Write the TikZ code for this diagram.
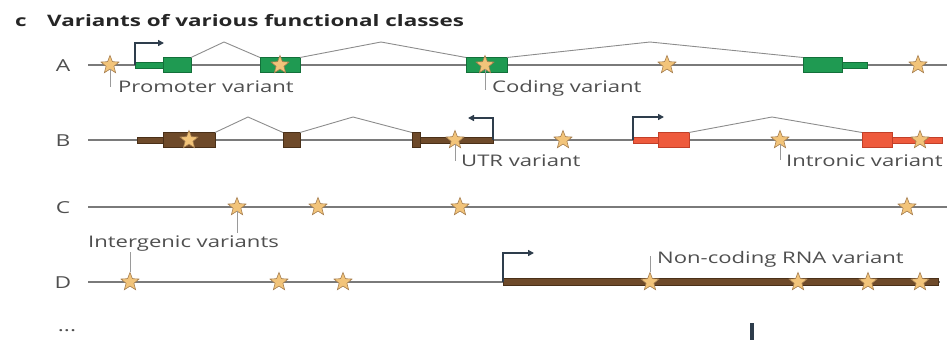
\documentclass[tikz,border=0pt]{standalone}
\usepackage{fontspec}
\setmainfont{Open Sans}
\newfontfamily\labfont{Open Sans}[FakeStretch=1.38]
\newfontfamily\titfont{Open Sans}[FakeStretch=1.42]
\usetikzlibrary{shapes.geometric,arrows.meta}
\definecolor{bbone}{HTML}{7A7A7A}
\definecolor{intr}{HTML}{8C8C8C}
\definecolor{gfill}{HTML}{1F9A52}
\definecolor{gdraw}{HTML}{13703A}
\definecolor{bfill}{HTML}{6E4A2A}
\definecolor{bdraw}{HTML}{4A3018}
\definecolor{rfill}{HTML}{EE5A3C}
\definecolor{rdraw}{HTML}{C23F28}
\definecolor{sfill}{HTML}{F2C47A}
\definecolor{sdraw}{HTML}{A57D4E}
\definecolor{promc}{HTML}{2E3D4C}
\definecolor{txt}{HTML}{4F4F4F}
\definecolor{lead}{HTML}{9A9A9A}
\begin{document}
\begin{tikzpicture}[x=1pt,y=-1pt,
  backbone/.style={draw=bbone,line width=1.5pt},
  intron/.style={draw=intr,line width=0.9pt},
  box/.style={rectangle,anchor=west,inner sep=0,outer sep=0,line width=0.8pt,minimum height=15pt},
  utr/.style={rectangle,anchor=west,inner sep=0,outer sep=0,line width=0.8pt,minimum height=6pt},
  gexon/.style={box,fill=gfill,draw=gdraw},
  gutr/.style={utr,fill=gfill,draw=gdraw},
  bexon/.style={box,fill=bfill,draw=bdraw},
  butr/.style={utr,fill=bfill,draw=bdraw},
  rexon/.style={box,fill=rfill,draw=rdraw},
  rutr/.style={utr,fill=rfill,draw=rdraw},
  vstar/.style={star,star points=5,star point ratio=2.3,minimum size=19pt,inner sep=0,fill=sfill,draw=sdraw,line width=0.6pt},
  prom/.style={draw=promc,line width=1.8pt,-{Triangle[length=6pt,width=6pt]}},
  leader/.style={draw=lead,line width=0.9pt},
  lab/.style={anchor=base west,inner sep=0,text=txt,font=\labfont\fontsize{16}{18}\selectfont},
  rowlab/.style={anchor=center,inner sep=0,text=txt,font=\labfont\fontsize{16.5}{18}\selectfont},
  ttl/.style={anchor=base west,inner sep=0,text=black!85,font=\titfont\bfseries\fontsize{15.8}{17}\selectfont}
]
\useasboundingbox (0,0) rectangle (951,340);

% title
\node[ttl] (tc) at (15,26) {c};
\node[ttl] (title) at (47,26) {Variants of various functional classes};

% ================= Row A =================
\node[rowlab] (rA) at (63,66) {A};
\coordinate (aL) at (88,65); \coordinate (aR) at (947,65);
\draw[backbone] (aL) -- (aR);
\node[gutr,minimum width=28pt] (au1) at (135,65) {};
\node[gexon,minimum width=28pt] (ae1) at (163,65) {};
\node[gexon,minimum width=40pt] (ae2) at (260,65) {};
\node[gexon,minimum width=41pt] (ae3) at (466,65) {};
\node[gexon,minimum width=39pt] (ae4) at (803,65) {};
\node[gutr,minimum width=25pt] (au2) at (842,65) {};
\coordinate (ap1) at (224,42); \coordinate (ap2) at (381,42); \coordinate (ap3) at (650,42);
\draw[intron] (ae1.north east) -- (ap1) -- (ae2.north west);
\draw[intron] (ae2.north east) -- (ap2) -- (ae3.north west);
\draw[intron] (ae3.north east) -- (ap3) -- (ae4.north west);
\coordinate (apr) at (135,65); \coordinate (apr2) at (135,43); \coordinate (apr3) at (164,43);
\draw[prom] (apr) -- (apr2) -- (apr3);
\node[vstar] (as1) at (110,65) {};
\node[vstar] (as2) at (280,65) {};
\node[vstar] (as3) at (485,65) {};
\node[vstar] (as4) at (667,65) {};
\node[vstar] (as5) at (918,65) {};
\node[lab] (lprom) at (118,92) {Promoter variant};
\node[lab] (lcod) at (492,92) {Coding variant};
\coordinate (lpe) at (110,87); \coordinate (lce) at (485,90);
\draw[leader] (as1.south) -- (lpe);
\draw[leader] (as3.south) -- (lce);

% ================= Row B =================
\node[rowlab] (rB) at (63,141) {B};
\coordinate (bL) at (88,140); \coordinate (bR) at (943,140);
\draw[backbone] (bL) -- (bR);
\node[butr,minimum width=26pt] (bu1) at (137,140) {};
\node[bexon,minimum width=52pt] (be1) at (163,140) {};
\node[bexon,minimum width=17pt] (be2) at (283,140) {};
\node[bexon,minimum width=8pt] (be3) at (412,140) {};
\node[butr,minimum width=73pt] (bu2) at (420,140) {};
\coordinate (bp1) at (248,117); \coordinate (bp2) at (353,117);
\draw[intron] (be1.north east) -- (bp1) -- (be2.north west);
\draw[intron] (be2.north east) -- (bp2) -- (be3.north west);
\coordinate (bpr) at (493,140); \coordinate (bpr2) at (493,118); \coordinate (bpr3) at (468,118);
\draw[prom] (bpr) -- (bpr2) -- (bpr3);
% red gene
\node[rutr,minimum width=25pt] (ru1) at (633,140) {};
\node[rexon,minimum width=31pt] (re1) at (658,140) {};
\node[rexon,minimum width=30pt] (re2) at (862,140) {};
\node[rutr,minimum width=50pt] (ru2) at (892,140) {};
\coordinate (rp1) at (772,117);
\draw[intron] (re1.north east) -- (rp1) -- (re2.north west);
\coordinate (rpr) at (633,140); \coordinate (rpr2) at (633,117); \coordinate (rpr3) at (664,117);
\draw[prom] (rpr) -- (rpr2) -- (rpr3);
\node[vstar] (bs1) at (189,140) {};
\node[vstar] (bs2) at (455,140) {};
\node[vstar] (bs3) at (563,140) {};
\node[vstar] (bs4) at (780,140) {};
\node[vstar] (bs5) at (920,140) {};
\node[lab] (lutr) at (461,166) {UTR variant};
\node[lab] (lint) at (786,166) {Intronic variant};
\coordinate (lue) at (455,161); \coordinate (lie) at (780,160);
\draw[leader] (bs2.south) -- (lue);
\draw[leader] (bs4.south) -- (lie);

% ================= Row C =================
\node[rowlab] (rC) at (63,208) {C};
\coordinate (cL) at (88,207); \coordinate (cR) at (947,207);
\draw[backbone] (cL) -- (cR);
\node[vstar] (cs1) at (237,207) {};
\node[vstar] (cs2) at (318,207) {};
\node[vstar] (cs3) at (460,207) {};
\node[vstar] (cs4) at (907,207) {};
\node[lab] (linter) at (88,247) {Intergenic variants};
\coordinate (lie1) at (237,233); \coordinate (lie2) at (130,252);
\draw[leader] (cs1.south) -- (lie1);

% ================= Row D =================
\node[rowlab] (rD) at (63,283) {D};
\coordinate (dL) at (88,282); \coordinate (dR) at (940,282);
\draw[backbone] (dL) -- (dR);
\node[rectangle,anchor=west,inner sep=0,outer sep=0,minimum height=7pt,minimum width=435pt,fill=bfill,draw=bdraw,line width=0.8pt] (nc) at (503,282) {};
\coordinate (dpr) at (503,282); \coordinate (dpr2) at (503,253); \coordinate (dpr3) at (534,253);
\draw[prom] (dpr) -- (dpr2) -- (dpr3);
\node[vstar] (ds1) at (130,282) {};
\node[vstar] (ds2) at (279,282) {};
\node[vstar] (ds3) at (343,282) {};
\node[vstar] (ds4) at (650,282) {};
\node[vstar] (ds5) at (798,282) {};
\node[vstar] (ds6) at (868,282) {};
\node[vstar] (ds7) at (920,282) {};
\draw[leader] (lie2) -- (ds1.north);
\node[lab] (lnc) at (657,263) {Non-coding RNA variant};
\coordinate (lnce) at (650,256);
\draw[leader] (ds4.north) -- (lnce);

% ellipsis and bar
\node[rowlab] (dots) at (67,331) {...};
\coordinate (barT) at (752,323); \coordinate (barB) at (752,340);
\draw[draw=promc,line width=4pt] (barT) -- (barB);
\end{tikzpicture}
\end{document}
